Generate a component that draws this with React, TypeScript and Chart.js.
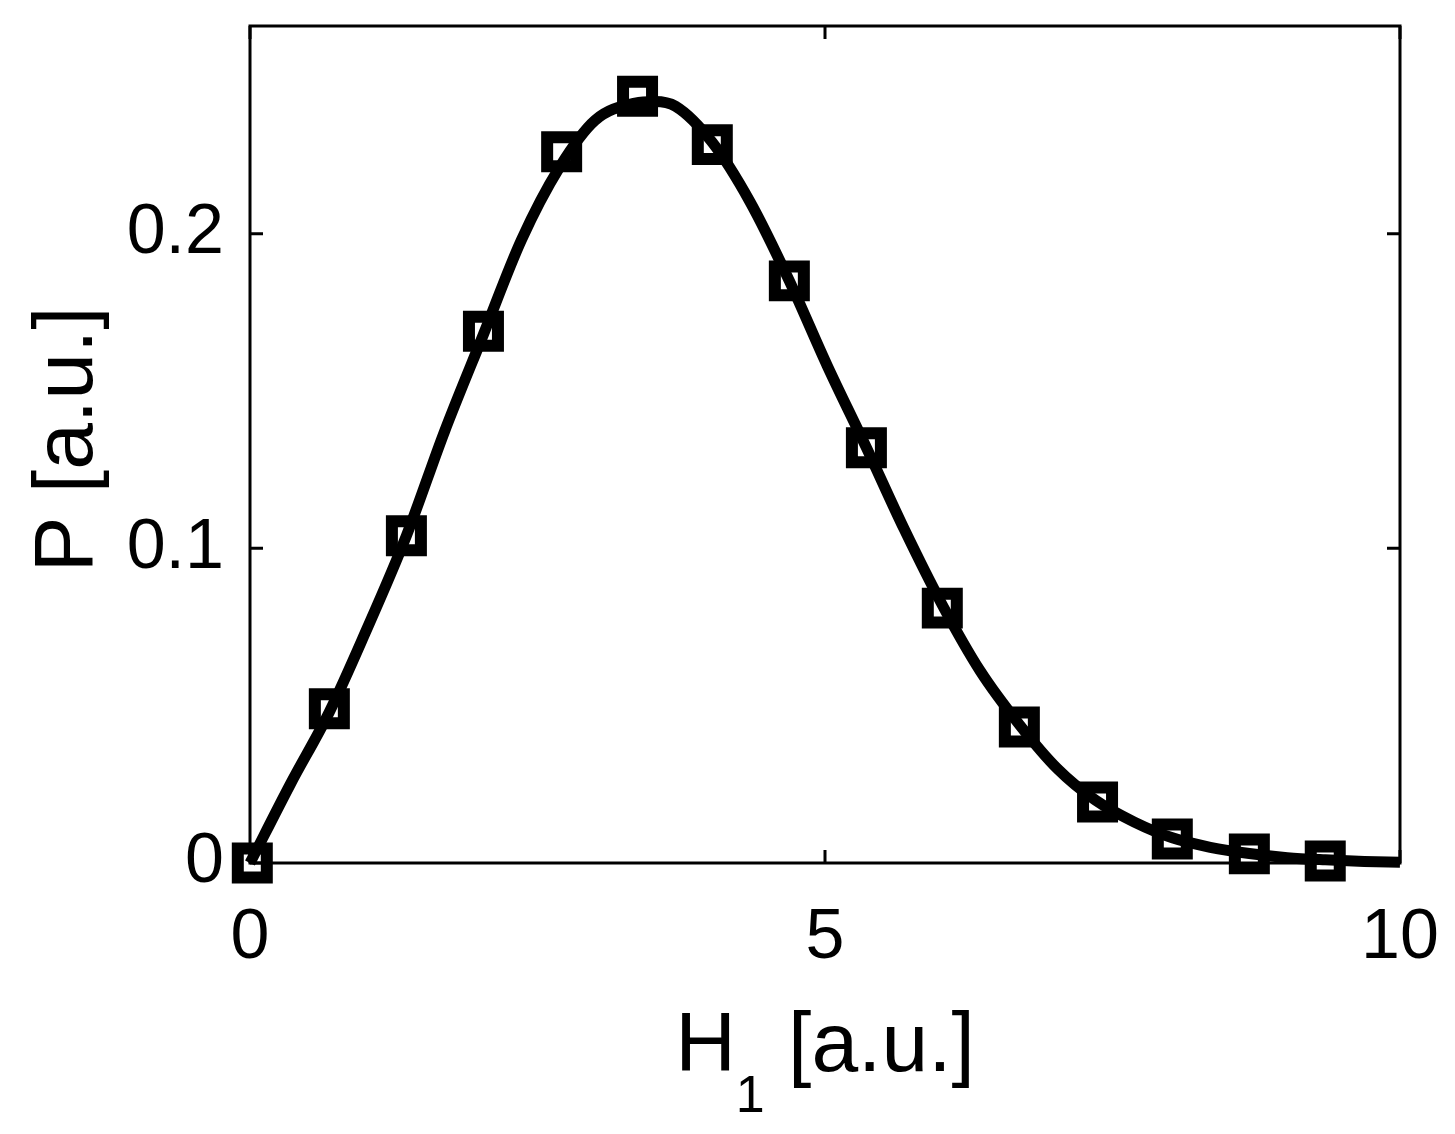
import React, { useEffect, useRef } from "react";
import { Chart, registerables } from "chart.js";

Chart.register(...registerables);

// Marker data (squares)
const markerX = [0.02, 0.69, 1.36, 2.03, 2.71, 3.37, 4.02, 4.69, 5.36, 6.02, 6.69, 7.37, 8.02, 8.69, 9.35];
const markerY = [0.0, 0.049, 0.104, 0.169, 0.226, 0.2437, 0.2283, 0.185, 0.132, 0.081, 0.0432, 0.0194, 0.0076, 0.0029, 0.0006];

// Smooth curve data
const curveX = [0, 0.35, 0.69, 1.0, 1.36, 1.69, 2.03, 2.36, 2.69, 3.0, 3.35, 3.52, 3.7, 4.02, 4.35, 4.69, 5.02, 5.36, 5.69, 6.02, 6.35, 6.69, 7.02, 7.35, 7.69, 8.02, 8.35, 8.69, 9.02, 9.35, 9.69, 10.0];
const curveY = [0.0, 0.025, 0.048, 0.073, 0.104, 0.137, 0.168, 0.198, 0.221, 0.236, 0.2415, 0.242, 0.2405, 0.229, 0.210, 0.185, 0.158, 0.132, 0.106, 0.082, 0.061, 0.044, 0.030, 0.020, 0.013, 0.008, 0.005, 0.003, 0.0017, 0.001, 0.0005, 0.0002];

// Axes
const xTickValues = [0, 5, 10];
const xTickLabels = ["0", "5", "10"];
const yTickValues = [0, 0.1, 0.2];
const yTickLabels = ["0", "0.1", "0.2"];
const xMin = 0;
const xMax = 10;
const yMin = 0;
const yMax = 0.266;

const xTitleMain = "H";
const xTitleSub = "1";
const xTitleRest = " [a.u.]";
const yTitle = "P [a.u.]";

const FONT = "'Liberation Sans', Arial, Helvetica, sans-serif";

const framePlugin = {
  id: "framePlugin",
  beforeDatasetsDraw(chart: any) {
    const { ctx, chartArea, scales } = chart;
    const { left, right, top, bottom } = chartArea;
    ctx.save();
    ctx.strokeStyle = "#000";
    ctx.lineWidth = 3;
    ctx.strokeRect(left, top, right - left, bottom - top);
    const tl = 13;
    ctx.beginPath();
    xTickValues.forEach((v) => {
      const px = scales.x.getPixelForValue(v);
      ctx.moveTo(px, bottom);
      ctx.lineTo(px, bottom - tl);
      ctx.moveTo(px, top);
      ctx.lineTo(px, top + tl);
    });
    yTickValues.forEach((v) => {
      const py = scales.y.getPixelForValue(v);
      ctx.moveTo(left, py);
      ctx.lineTo(left + tl, py);
      ctx.moveTo(right, py);
      ctx.lineTo(right - tl, py);
    });
    ctx.stroke();
    ctx.restore();
  },
  afterDraw(chart: any) {
    const { ctx, chartArea } = chart;
    const { left, right, top, bottom } = chartArea;
    ctx.save();
    ctx.fillStyle = "#000";
    ctx.textBaseline = "alphabetic";
    // X title with subscript
    const mainFont = `84px ${FONT}`;
    const subFont = `52px ${FONT}`;
    ctx.font = mainFont;
    const wH = ctx.measureText(xTitleMain).width;
    const wRest = ctx.measureText(xTitleRest).width;
    ctx.font = subFont;
    const wSub = ctx.measureText(xTitleSub).width;
    const total = wH + wSub + wRest;
    const cx = (left + right) / 2;
    const baseY = bottom + 208;
    let pen = cx - total / 2;
    ctx.textAlign = "left";
    ctx.font = mainFont;
    ctx.fillText(xTitleMain, pen, baseY);
    pen += wH;
    ctx.font = subFont;
    ctx.fillText(xTitleSub, pen, baseY + 41);
    pen += wSub;
    ctx.font = mainFont;
    ctx.fillText(xTitleRest, pen, baseY);
    // Y title rotated
    ctx.translate(92, (top + bottom) / 2 - 5);
    ctx.rotate(-Math.PI / 2);
    ctx.textAlign = "center";
    ctx.font = mainFont;
    ctx.fillText(yTitle, 0, 0);
    ctx.restore();
  },
};

export default function App() {
  const canvasRef = useRef<HTMLCanvasElement | null>(null);

  useEffect(() => {
    if (!canvasRef.current) return;
    const chart = new Chart(canvasRef.current, {
      type: "scatter",
      data: {
        datasets: [
          {
            type: "scatter",
            label: "data",
            data: markerX.map((x, i) => ({ x, y: markerY[i] })),
            pointStyle: "rect",
            pointRadius: 20.5,
            pointHoverRadius: 20.5,
            pointBorderWidth: 12,
            pointBackgroundColor: "rgba(0,0,0,0)",
            pointBorderColor: "#000",
            borderColor: "#000",
            backgroundColor: "rgba(0,0,0,0)",
            showLine: false,
            clip: false,
          } as any,
          {
            type: "line",
            label: "fit",
            data: curveX.map((x, i) => ({ x, y: curveY[i] })),
            borderColor: "#000",
            borderWidth: 11,
            pointRadius: 0,
            pointHoverRadius: 0,
            fill: false,
            cubicInterpolationMode: "monotone",
            clip: false,
          } as any,
        ],
      },
      options: {
        animation: false,
        responsive: false,
        maintainAspectRatio: false,
        events: [],
        layout: { autoPadding: false, padding: { left: 0, right: 55, top: 26, bottom: 0 } },
        plugins: {
          legend: { display: false },
          tooltip: { enabled: false },
          title: { display: false },
        },
        scales: {
          x: {
            type: "linear",
            position: "bottom",
            min: xMin,
            max: xMax,
            afterBuildTicks: (s: any) => {
              s.ticks = xTickValues.map((v) => ({ value: v }));
            },
            afterFit: (s: any) => {
              s.height = 1134 - 863;
              s.paddingLeft = 0;
              s.paddingRight = 0;
            },
            grid: { display: false, drawTicks: false },
            border: { display: false },
            ticks: {
              color: "#000",
              font: { family: FONT, size: 70 },
              padding: 34,
              maxRotation: 0,
              autoSkip: false,
              callback: (v: any) => {
                const i = xTickValues.indexOf(Number(v));
                return i >= 0 ? xTickLabels[i] : "";
              },
            },
          },
          y: {
            type: "linear",
            position: "left",
            min: yMin,
            max: yMax,
            afterBuildTicks: (s: any) => {
              s.ticks = yTickValues.map((v) => ({ value: v }));
            },
            afterFit: (s: any) => {
              s.width = 250;
              s.paddingTop = 0;
              s.paddingBottom = 0;
            },
            grid: { display: false, drawTicks: false },
            border: { display: false },
            ticks: {
              color: "#000",
              font: { family: FONT, size: 70 },
              padding: 26,
              autoSkip: false,
              callback: (v: any) => {
                const i = yTickValues.findIndex((t) => Math.abs(t - Number(v)) < 1e-9);
                return i >= 0 ? yTickLabels[i] : "";
              },
            },
          },
        },
      },
      plugins: [framePlugin],
    });
    return () => chart.destroy();
  }, []);

  return (
    <div style={{ position: "fixed", left: 0, top: 0, width: 1455, height: 1134, background: "#fff" }}>
      <canvas ref={canvasRef} width={1455} height={1134} style={{ width: 1455, height: 1134, display: "block" }} />
    </div>
  );
}
